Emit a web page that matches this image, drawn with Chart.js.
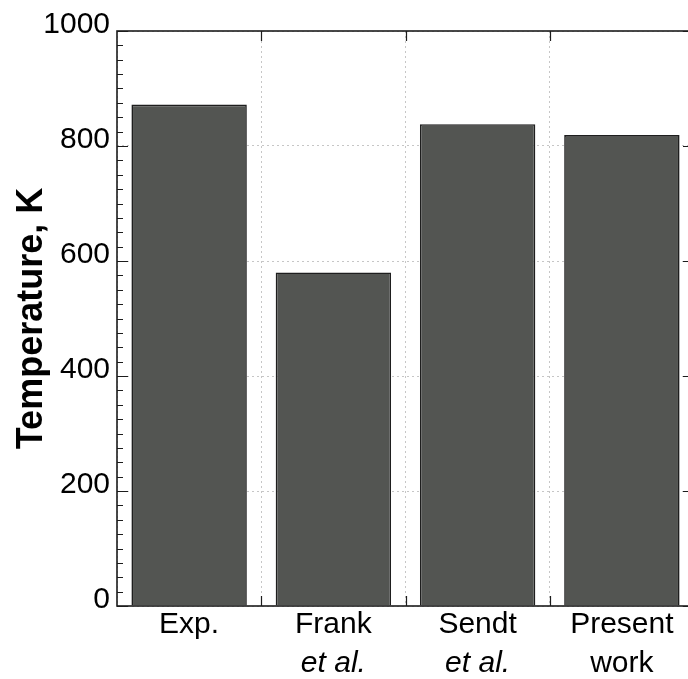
<!DOCTYPE html>
<html>
<head>
<meta charset="utf-8">
<script src="https://cdn.jsdelivr.net/npm/chart.js@4.4.1/dist/chart.umd.min.js"></script>
<style>
  html, body { margin: 0; padding: 0; background: #fff; overflow: hidden; }
  #wrap { width: 700px; height: 679px; }
</style>
</head>
<body>
<div id="wrap"><canvas id="chart" width="700" height="679"></canvas></div>
<script>
// Peak temperatures from experiment and from three models
const categories = ['Exp.', 'Frank', 'Sendt', 'Present'];
const secondLine = ['', 'et al.', 'et al.', 'work'];
const secondLineItalic = [false, true, true, false];
const temperatures = [872, 580, 838, 819];
const yTicks = [0, 200, 400, 600, 800, 1000];
const yMinorStep = 25;

const FONT = '"Liberation Sans", Arial, sans-serif';
const AXIS_COLOR = '#1c1c1c';
const GRID_COLOR = '#c6c6c6';

// Closed frame with inward major/minor ticks and the second row of category labels
const framePlugin = {
  id: 'frame',
  afterDatasetsDraw(chart) {
    const { ctx, chartArea: a, scales } = chart;
    const x = scales.x, y = scales.y;
    ctx.save();
    ctx.strokeStyle = AXIS_COLOR;
    ctx.lineWidth = 1.6;
    ctx.strokeRect(a.left, a.top, a.right - a.left, a.bottom - a.top);

    ctx.lineWidth = 1.2;
    ctx.beginPath();
    const yMax = yTicks[yTicks.length - 1];
    for (let v = yTicks[0]; v <= yMax; v += yMinorStep) {
      const py = Math.round(y.getPixelForValue(v)) + 0.5;
      const len = yTicks.includes(v) ? 11 : 6;
      ctx.moveTo(a.left, py); ctx.lineTo(a.left + len, py);
      ctx.moveTo(a.right, py); ctx.lineTo(a.right - len, py);
    }
    for (let i = 0; i < categories.length - 1; i++) {
      const px = Math.round((x.getPixelForTick(i) + x.getPixelForTick(i + 1)) / 2) + 0.5;
      ctx.moveTo(px, a.top); ctx.lineTo(px, a.top + 10);
      ctx.moveTo(px, a.bottom); ctx.lineTo(px, a.bottom - 10);
    }
    ctx.stroke();

    ctx.fillStyle = '#000';
    ctx.textAlign = 'center';
    ctx.textBaseline = 'alphabetic';
    secondLine.forEach((t, i) => {
      if (!t) return;
      ctx.font = (secondLineItalic[i] ? 'italic ' : '') + '30px ' + FONT;
      ctx.fillText(t, x.getPixelForTick(i), a.bottom + 66);
    });
    ctx.restore();
  }
};

new Chart(document.getElementById('chart'), {
  type: 'bar',
  data: {
    labels: categories,
    datasets: [{
      data: temperatures,
      backgroundColor: 'rgb(83,85,82)',
      borderColor: '#1e1e1e',
      borderWidth: 1.6,
      barPercentage: 1.0,
      categoryPercentage: 0.8
    }]
  },
  options: {
    responsive: false,
    devicePixelRatio: 1,
    animation: false,
    layout: { padding: { top: 31, right: 6, left: 0, bottom: 0 } },
    plugins: { legend: { display: false }, tooltip: { enabled: false } },
    scales: {
      x: {
        offset: true,
        border: { display: false, dash: [2, 3] },
        grid: {
          offset: true,
          color: GRID_COLOR,
          lineWidth: 1,
          drawTicks: false
        },
        ticks: { color: '#000', font: { family: FONT, size: 30 }, padding: 1, maxRotation: 0 },
        afterFit(scale) { scale.height = 73; }
      },
      y: {
        min: 0,
        max: 1000,
        border: { display: false, dash: [2, 3] },
        grid: { color: GRID_COLOR, lineWidth: 1, drawTicks: false },
        afterBuildTicks(scale) { scale.ticks = yTicks.map(v => ({ value: v })); },
        ticks: {
          color: '#000',
          font: { family: FONT, size: 30 },
          padding: 7,
          labelOffset: -6,
          callback: (v) => String(v)
        },
        title: {
          display: true,
          text: 'Temperature, K',
          color: '#000',
          font: { family: FONT, size: 36, weight: 'bold' },
          padding: { top: 10, bottom: 0 }
        },
        afterFit(scale) { scale.width = 117; }
      }
    }
  },
  plugins: [framePlugin]
});
</script>
</body>
</html>
